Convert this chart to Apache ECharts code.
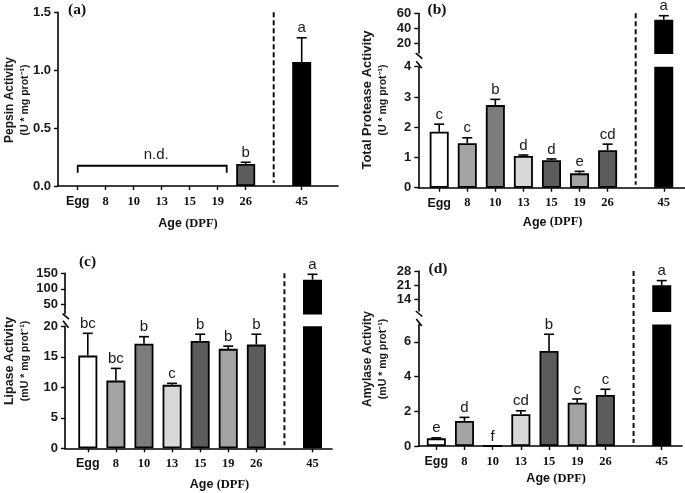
<!DOCTYPE html>
<html><head><meta charset="utf-8">
<script src="https://cdn.jsdelivr.net/npm/echarts@6/dist/echarts.min.js"></script>
<style>html,body{margin:0;padding:0;background:#fff}#c{width:685px;height:493px}</style>
</head><body><div id="c"></div>
<script>
// ---------------- data ----------------
const categories = ['Egg','8','10','13','15','19','26','45'];

const pepsinMean    = [null,null,null,null,null,null,0.19,1.07];
const pepsinErr     = [null,null,null,null,null,null,0.015,0.21];
const pepsinLetters = ['','','','','','','b','a'];
const pepsinTicks   = [0,0.5,1.0,1.5];
const ndFrom = 'Egg', ndTo = '19', ndLevel = 0.175, ndText = 'n.d.';

const proteaseMean    = [1.85,1.47,2.73,1.05,0.905,0.475,1.24,51.5];
const proteaseErr     = [0.25,0.18,0.19,0.03,0.045,0.065,0.2,5.3];
const proteaseLetters = ['c','c','b','d','d','e','cd','a'];
const proteaseLowTicks  = [0,1,2,3,4];
const proteaseHighTicks = [20,40,60];

const lipaseMean    = [15.2,11.1,17.15,10.4,17.6,16.3,17.0,129.4];
const lipaseErr     = [3.65,2.0,1.15,0.25,1.1,0.45,1.7,17.4];
const lipaseLetters = ['bc','bc','b','c','b','b','b','a'];
const lipaseLowTicks  = [0,5,10,15,20];
const lipaseHighTicks = [50,100,150];

const amylaseMean    = [0.44,1.44,0,1.83,5.48,2.5,2.94,20.85];
const amylaseErr     = [0.03,0.21,0,0.2,0.96,0.21,0.33,2.35];
const amylaseLetters = ['e','d','f','cd','b','c','c','a'];
const amylaseLowTicks  = [0,2,4,6];
const amylaseHighTicks = [14,21,28];

// ---------------- styles / layout ----------------
const SANS = 'Liberation Sans', SERIF = 'Liberation Serif';
const barColors = ['#ffffff','#a3a3a3','#7c7c7c','#d8d8d8','#5c5c5c','#a3a3a3','#5c5c5c','#000000'];
const gapIndex = categories.length - 1;
const catPos = i => (i < gapIndex ? i : i + 1);
const positions = categories.map((_, i) => catPos(i));

const panels = [
  { mean: pepsinMean, err: pepsinErr, letters: pepsinLetters, decimals: 1,
    low: {min:0, max:1.5, ticks: pepsinTicks}, high: null,
    L: {axisX:58, axisEnd:338, firstCenter:77.7, slot:28, lowTop:12.3, lowBottom:186, nameGap:31, nameDx:-10},
    title: ['Pepsin Activity','(U * mg prot\u207B\u00B9)'], titleX:[10,25], titleY:100, titleSize:12,
    tag:'(a)', tagX:77, tagY:10 },
  { mean: proteaseMean, err: proteaseErr, letters: proteaseLetters, decimals: 0,
    low: {min:0, max:4, ticks: proteaseLowTicks}, high: {min:7, max:60, ticks: proteaseHighTicks},
    L: {axisX:418.3, axisEnd:685, firstCenter:439.2, slot:28.07, lowTop:66.7, lowBottom:187.7, highTop:13.3, highBottom:53.05, nameGap:28, nameDx:1},
    title: ['Total Protease Activity','(U * mg prot\u207B\u00B9)'], titleX:[367.5,383], titleY:100, titleSize:13,
    tag:'(b)', tagX:437, tagY:10 },
  { mean: lipaseMean, err: lipaseErr, letters: lipaseLetters, decimals: 0,
    low: {min:0, max:20, ticks: lipaseLowTicks}, high: {min:20, max:150, ticks: lipaseHighTicks},
    L: {axisX:65, axisEnd:332, firstCenter:87.8, slot:28.09, lowTop:326.3, lowBottom:448.3, highTop:273.3, highBottom:313.6, nameGap:30, nameDx:21},
    title: ['Lipase Activity','(mU * mg prot\u207B\u00B9)'], titleX:[10,25], titleY:361, titleSize:12.5,
    tag:'(c)', tagX:87.5, tagY:262 },
  { mean: amylaseMean, err: amylaseErr, letters: amylaseLetters, decimals: 0,
    low: {min:0, max:7, ticks: amylaseLowTicks}, high: {min:8, max:28, ticks: amylaseHighTicks},
    L: {axisX:418.3, axisEnd:682, firstCenter:436.3, slot:28.18, lowTop:324.55, lowBottom:446, highTop:271, highBottom:311, nameGap:26, nameDx:6},
    title: ['Amylase Activity','(mU * mg prot\u207B\u00B9)'], titleX:[367.5,383.5], titleY:359, titleSize:12,
    tag:'(d)', tagX:438, tagY:269 }
];

const xRich = {
  s: {fontFamily: SANS, fontWeight: 'bold', fontSize: 12.5, color: '#111'},
  n: {fontFamily: SERIF, fontWeight: 'bold', fontSize: 12.5, color: '#111'}
};
const xFormatter = v => {
  const i = positions.indexOf(Math.round(v));
  if (i < 0) return '';
  const c = categories[i];
  return isNaN(+c) ? '{s|' + c + '}' : '{n|' + c + '}';
};

const grids = [], xAxes = [], yAxes = [], series = [];
const lineStyle = {color: '#000', width: 1.6};

function errSeries(gi, items) {
  return {
    type: 'custom', xAxisIndex: gi, yAxisIndex: gi, z: 5, clip: false,
    data: items.map(it => [it.x, it.v, it.e]),
    renderItem: (params, api) => {
      const it = items[params.dataIndex];
      const base = api.coord([it.x, it.v]);
      const top = api.coord([it.x, it.v + it.e]);
      const ch = [];
      if (it.e > 0) {
        ch.push({type:'line', shape:{x1:base[0], y1:base[1], x2:top[0], y2:top[1]}, style:{stroke:'#000', lineWidth:1.6}});
        ch.push({type:'line', shape:{x1:top[0]-5, y1:top[1], x2:top[0]+5, y2:top[1]}, style:{stroke:'#000', lineWidth:1.6}});
      }
      if (it.letter) {
        ch.push({type:'text', x: top[0], y: top[1] - 2,
          style:{text: it.letter, fontFamily: SANS, fontSize: 15, fill:'#1a1a1a', align:'center', verticalAlign:'bottom'}});
      }
      return {type:'group', children: ch};
    }
  };
}

panels.forEach(p => {
  const L = p.L;
  const xMin = (L.axisX - L.firstCenter) / L.slot;
  const xMax = (L.axisEnd - L.firstCenter) / L.slot;
  p.xMin = xMin;
  const yLabel = {
    margin: 7, fontFamily: SANS, fontWeight: 'bold', fontSize: 13, color: '#1a1a1a',
    formatter: v => v.toFixed(p.decimals)
  };
  // lower grid
  const lowGi = grids.length; p.lowGi = lowGi;
  grids.push({left: L.axisX, top: L.lowTop, width: L.axisEnd - L.axisX, height: L.lowBottom - L.lowTop});
  const pad = L.nameDx >= 0 ? [0, 0, 0, 2 * L.nameDx] : [0, -2 * L.nameDx, 0, 0];
  xAxes.push({
    gridIndex: lowGi, type: 'value', min: xMin, max: xMax,
    axisLine: {show: true, onZero: false, lineStyle},
    axisTick: {show: true, customValues: positions, length: 4, lineStyle: {color:'#000', width:1.4}},
    axisLabel: {customValues: positions, margin: 9, formatter: xFormatter, rich: xRich},
    splitLine: {show: false},
    name: '{s|Age} {n|(DPF)}', nameLocation: 'middle', nameGap: L.nameGap,
    nameTextStyle: {rich: xRich, padding: pad}
  });
  yAxes.push({
    gridIndex: lowGi, type: 'value', min: p.low.min, max: p.low.max,
    axisLine: {show: true, onZero: false, lineStyle},
    axisTick: {show: true, customValues: p.low.ticks, length: 4, lineStyle: {color:'#000', width:1.4}},
    axisLabel: Object.assign({customValues: p.low.ticks}, yLabel),
    splitLine: {show: false}
  });
  const lowBars = [], lowErr = [], highBars = [], highErr = [];
  p.mean.forEach((v, i) => {
    if (v == null) return;
    const x = catPos(i);
    lowBars.push({value: [x, Math.min(v, p.low.max)], itemStyle: {color: barColors[i]}});
    const item = {x, v, e: p.err[i] || 0, letter: p.letters[i]};
    if (p.high && v > p.low.max) {
      highBars.push({value: [x, v], itemStyle: {color: barColors[i]}});
      highErr.push(item);
    } else lowErr.push(item);
  });
  const barBase = {type: 'bar', barWidth: 19, clip: true, z: 2,
    itemStyle: {borderColor: '#000', borderWidth: 1.8}};
  series.push(Object.assign({}, barBase, {xAxisIndex: lowGi, yAxisIndex: lowGi, data: lowBars}));
  series.push(errSeries(lowGi, lowErr));
  if (p === panels[0]) {
    const a = categories.indexOf(ndFrom), b = categories.indexOf(ndTo);
    series.push({
      type: 'custom', xAxisIndex: lowGi, yAxisIndex: lowGi, z: 5, clip: false,
      data: [[catPos(a), catPos(b), ndLevel]],
      renderItem: (params, api) => {
        const p1 = api.coord([api.value(0), api.value(2)]);
        const p2 = api.coord([api.value(1), api.value(2)]);
        p2[0] += 9;
        return {type: 'group', children: [
          {type: 'polyline', shape: {points: [[p1[0], p1[1] + 7], p1, p2, [p2[0], p2[1] + 7]]},
           style: {stroke: '#000', lineWidth: 1.8, fill: null}},
          {type: 'text', x: (p1[0] + p2[0]) / 2 + 4, y: p1[1] - 3,
           style: {text: ndText, fontFamily: SANS, fontSize: 15, fill: '#1a1a1a', align: 'center', verticalAlign: 'bottom'}}
        ]};
      }
    });
  }
  if (p.high) {
    const hGi = grids.length; p.highGi = hGi;
    grids.push({left: L.axisX, top: L.highTop, width: L.axisEnd - L.axisX, height: L.highBottom - L.highTop});
    xAxes.push({gridIndex: hGi, type: 'value', min: xMin, max: xMax, show: false});
    yAxes.push({
      gridIndex: hGi, type: 'value', min: p.high.min, max: p.high.max,
      axisLine: {show: true, onZero: false, lineStyle},
      axisTick: {show: true, customValues: p.high.ticks, length: 4, lineStyle: {color:'#000', width:1.4}},
      axisLabel: Object.assign({customValues: p.high.ticks}, yLabel),
      splitLine: {show: false}
    });
    series.push(Object.assign({}, barBase, {xAxisIndex: hGi, yAxisIndex: hGi, data: highBars}));
    series.push(errSeries(hGi, highErr));
  }
});

const chart = echarts.init(document.getElementById('c'));
chart.setOption({animation: false, grid: grids, xAxis: xAxes, yAxis: yAxes, series});

// ---------- decorations computed through the axes ----------
const g = [];
panels.forEach(p => {
  const base = chart.convertToPixel({gridIndex: p.lowGi}, [gapIndex, p.low.min]);
  const topY = p.high
    ? chart.convertToPixel({gridIndex: p.highGi}, [gapIndex, p.high.max])[1]
    : chart.convertToPixel({gridIndex: p.lowGi}, [gapIndex, p.low.max])[1];
  g.push({type: 'line', shape: {x1: base[0], y1: topY, x2: base[0], y2: base[1] - 3},
    style: {stroke: '#111', lineWidth: 2, lineDash: [5, 3]}});
  if (p.high) {
    const a = chart.convertToPixel({gridIndex: p.highGi}, [p.xMin, p.high.min]);
    const b = chart.convertToPixel({gridIndex: p.lowGi}, [p.xMin, p.low.max]);
    g.push({type: 'line', shape: {x1: a[0] - 2.5, y1: a[1], x2: a[0] + 4, y2: a[1] + 5.5}, style: {stroke: '#000', lineWidth: 1.6}});
    g.push({type: 'line', shape: {x1: b[0] - 2, y1: b[1] - 5.5, x2: b[0] + 3.5, y2: b[1] + 1.5}, style: {stroke: '#000', lineWidth: 1.6}});
  }
  g.push({type: 'text', x: p.titleX[0], y: p.titleY, rotation: Math.PI / 2,
    style: {text: p.title[0], fontFamily: SANS, fontWeight: 'bold', fontSize: p.titleSize, fill: '#1a1a1a', align: 'center', verticalAlign: 'middle'}});
  g.push({type: 'text', x: p.titleX[1], y: p.titleY, rotation: Math.PI / 2,
    style: {text: p.title[1], fontFamily: SANS, fontWeight: 'bold', fontSize: 10.5, fill: '#1a1a1a', align: 'center', verticalAlign: 'middle'}});
  g.push({type: 'text', x: p.tagX, y: p.tagY,
    style: {text: p.tag, fontFamily: SERIF, fontWeight: 'bold', fontSize: 15.5, fill: '#111', align: 'center', verticalAlign: 'middle'}});
});
chart.setOption({graphic: {elements: g}});
</script>
</body></html>
